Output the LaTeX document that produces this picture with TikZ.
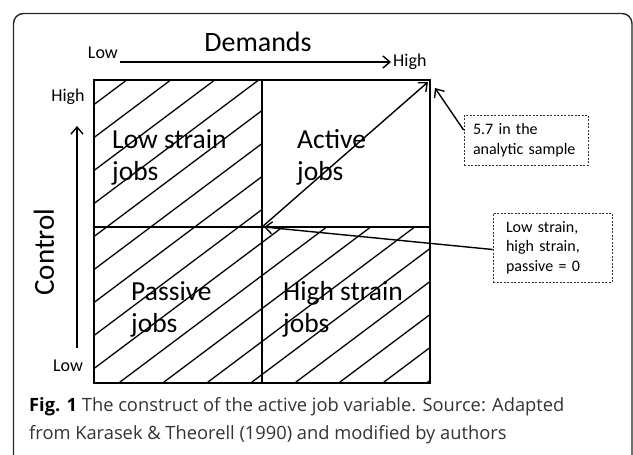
\documentclass[tikz,border=0pt]{standalone}
\usepackage{fontspec}
\setmainfont{Carlito}
\newfontfamily\capfont{Open Sans}
\usetikzlibrary{arrows.meta}

\begin{document}
\begin{tikzpicture}[x=1pt,y=-1pt,
  gridline/.style={line width=2.5pt, line join=miter},
  hatch/.style={line width=1.3pt},
  arr/.style={line width=1.4pt, -{Straight Barb[length=7pt,width=12pt,line width=1.4pt]}},
  note/.style={draw, black!80, text=black, dash pattern=on 2pt off 1.5pt, line width=0.8pt,
    font=\fontsize{16}{19.5}\selectfont, align=left},
  quad/.style={anchor=base west, inner sep=0pt, font=\fontsize{27.5}{32}\selectfont},
  axislabel/.style={font=\fontsize{18}{22}\selectfont, inner sep=2pt},
  captxt/.style={anchor=base west, inner sep=0pt, text=black!80,
    font=\capfont\fontsize{18.3}{22}\selectfont},
]
\useasboundingbox (0,0) rectangle (633,455);
\fill[white] (0,0) rectangle (633,455);

% panel frame
\draw[line width=1.4pt, black!85, rounded corners=10pt] (13.5,13.5) rectangle (632,478);

% corners and midpoints of the job-strain square
\coordinate (TL) at (94,80);
\coordinate (TR) at (430,80);
\coordinate (BL) at (94,383);
\coordinate (BR) at (430,383);
\coordinate (TM) at (262,80);
\coordinate (BM) at (262,383);
\coordinate (LM) at (94,227);
\coordinate (RM) at (430,227);
\coordinate (C)  at (262,227);

% hatching of the three non-active quadrants
\begin{scope}
  \clip (TL) -- (TM) -- (C) -- (RM) -- (BR) -- (BL) -- cycle;
  \foreach \c in {175,208,...,703}
    \draw[hatch] (94,{\c-0.75*94}) -- (430,{\c-0.75*430});
\end{scope}

% square and dividing lines
\draw[gridline] (TL) rectangle (BR);
\draw[gridline] (TM) -- (BM);
\draw[gridline] (LM) -- (RM);

% quadrant labels
\node[quad] (lowstrain) at (112,148) {\begin{tabular}[t]{@{}l@{}}Low strain\\jobs\end{tabular}};
\node[quad] (active) at (297,148) {\begin{tabular}[t]{@{}l@{}}Active\\jobs\end{tabular}};
\node[quad] (passive) at (131,300) {\begin{tabular}[t]{@{}l@{}}Passive\\jobs\end{tabular}};
\node[quad] (highstrain) at (283,300) {\begin{tabular}[t]{@{}l@{}}High strain\\jobs\end{tabular}};

% demands axis
\node[anchor=base, inner sep=0pt, font=\fontsize{28}{34}\selectfont] (demands) at (258,51) {Demands};
\node[axislabel, anchor=base east] (dlow) at (120,59) {Low};
\node[axislabel, anchor=west] (dhigh) at (391,62) {High};
\draw[arr] ([yshift=-3pt]dlow.base east) -- (dhigh.west);

% control axis
\node[font=\fontsize{29}{34}\selectfont, rotate=90, inner sep=0pt] (control) at (44,252) {Control};
\node[axislabel] (chigh) at (68,97) {High};
\node[axislabel] (clow) at (68,366) {Low};
\coordinate (cbot) at (77,348);
\coordinate (ctop) at (77,126);
\draw[arr] (cbot) -- (ctop);

% active-job arrow
\coordinate (apex) at (428,82);
\draw[arr] (C) -- (apex);

% notes
\node[note, minimum width=124pt, minimum height=50pt, text width=106pt, inner xsep=9pt] (sample) at (526,140)
  {5.7 in the\\analytic sample};
\node[note, minimum width=119pt, minimum height=69pt, text width=93pt, inner xsep=13pt] (zero) at (552.5,247.5)
  {Low strain,\\high strain,\\passive = 0};
\coordinate (tip1) at (435,88);
\draw[arr] ([yshift=10pt]sample.west) -- (tip1);
\draw[arr] ([yshift=-2pt]zero.west) -- ([xshift=2pt]C);

% caption
\node[captxt] (cap1) at (29,411) {\textbf{\color{black}Fig. 1} The construct of the active job variable. Source: Adapted};
\node[captxt] (cap2) at (29,439) {from Karasek \& Theorell (1990) and modified by authors};
\end{tikzpicture}
\end{document}
